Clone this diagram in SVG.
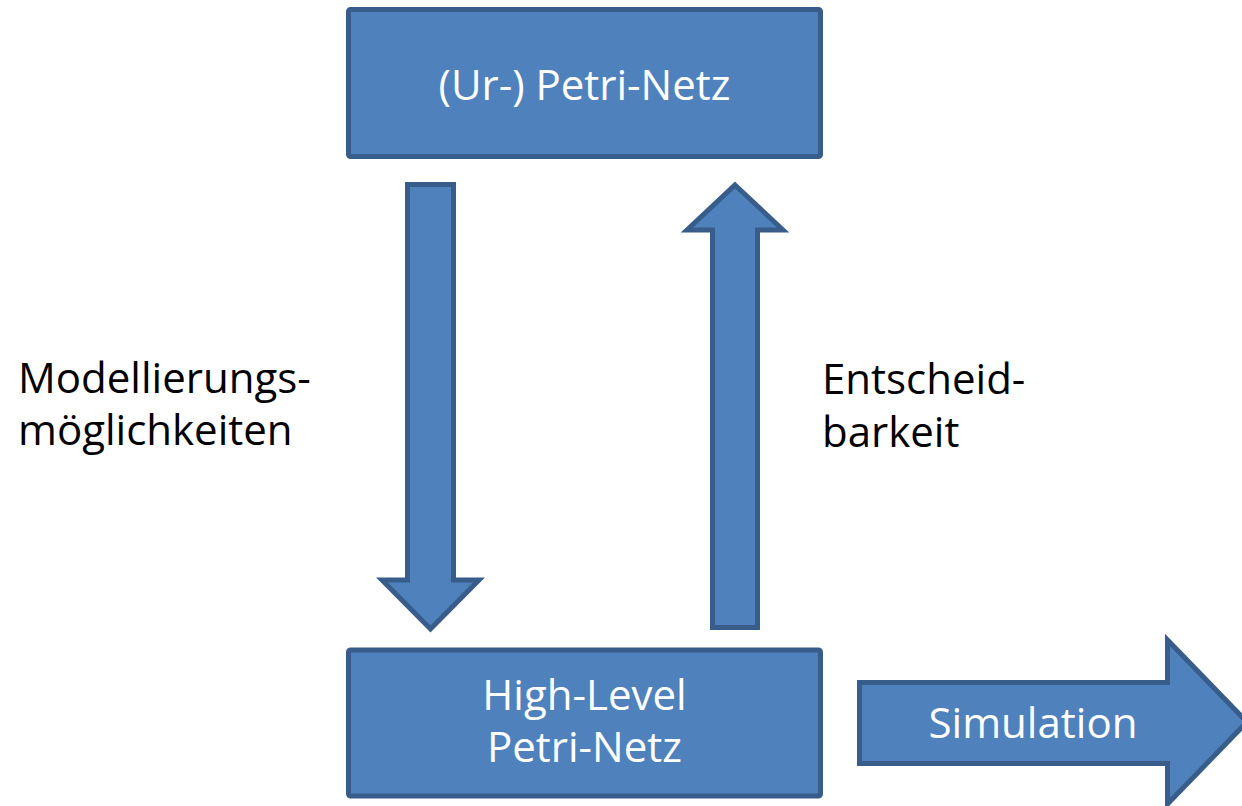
<svg xmlns="http://www.w3.org/2000/svg" width="1242" height="806" viewBox="0 0 1242 806">
  <style>
    .shape { fill: #4F81BD; stroke: #385D8A; stroke-width: 5; stroke-linejoin: miter; }
    .box { fill: #4F81BD; stroke: #385D8A; stroke-width: 5; }
    .in { font-family: "Open Sans", "Liberation Sans", sans-serif; font-size: 42px; fill: #FFFFFF; text-anchor: middle; }
    .lbl { font-family: "Open Sans", "Liberation Sans", sans-serif; font-size: 42px; fill: #000000; }
  </style>
  <rect width="1242" height="806" fill="#FFFFFF"/>
  <g id="connectors">
    <polygon id="arrow-down" class="shape" points="407.5,184.5 453.5,184.5 453.5,580 479,580 430.5,629 382,580 407.5,580"/>
    <polygon id="arrow-up" class="shape" points="735,185 783,230 757.5,230 757.5,627.5 712.5,627.5 712.5,230 687,230"/>
  </g>
  <g id="node-petri">
    <rect class="box" x="348.5" y="9.5" width="472" height="147" rx="2"/>
    <text class="in" x="584.5" y="100">(Ur-) Petri-Netz</text>
  </g>
  <g id="node-highlevel">
    <rect class="box" x="348.5" y="650" width="472" height="146" rx="2"/>
    <text class="in" x="584.5" y="710">High-Level</text>
    <text class="in" x="584.5" y="762">Petri-Netz</text>
  </g>
  <g id="node-simulation">
    <polygon class="shape" points="859.5,682.5 1167.5,682.5 1167.5,640 1247,722 1167.5,804 1167.5,763.5 859.5,763.5"/>
    <text class="in" x="1033" y="738">Simulation</text>
  </g>
  <g id="label-modellierung">
    <text class="lbl" x="18" y="393">Modellierungs-</text>
    <text class="lbl" x="18" y="445">möglichkeiten</text>
  </g>
  <g id="label-entscheid">
    <text class="lbl" x="822" y="394">Entscheid-</text>
    <text class="lbl" x="822" y="447">barkeit</text>
  </g>
</svg>
